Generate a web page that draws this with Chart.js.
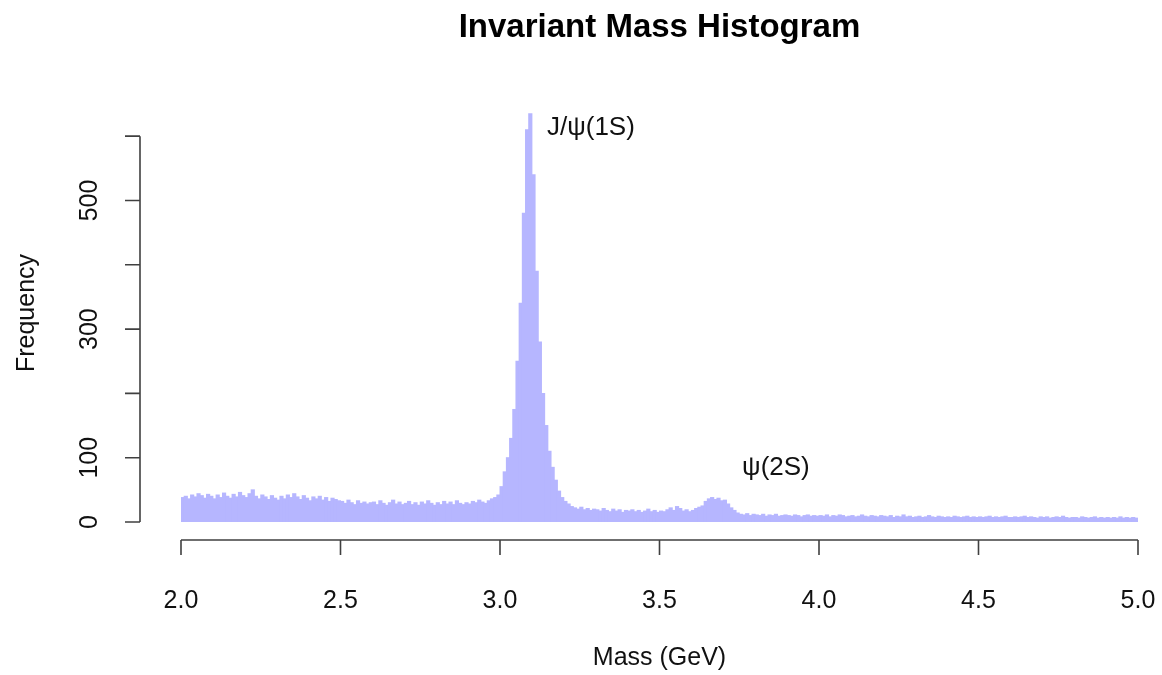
<!DOCTYPE html>
<html>
<head>
<meta charset="utf-8">
<script src="https://cdn.jsdelivr.net/npm/chart.js@4"></script>
<style>
  body { margin: 0; background: #fff; }
  canvas { display: block; }
</style>
</head>
<body>
<canvas id="hist" width="1162" height="675"></canvas>
<script>
// bins of 0.01 GeV from 2.00 to 5.00, one row per 0.1 GeV
const binStart = 2.0
const binWidth = 0.01
const counts = [
  38, 40, 36, 42, 39, 44, 41, 37, 43, 40,   // 2.0
  36, 42, 38, 45, 40, 37, 43, 39, 46, 41,   // 2.1
  38, 44, 50, 40, 36, 42, 39, 35, 41, 37,   // 2.2
  34, 40, 36, 42, 38, 44, 39, 35, 41, 37,   // 2.3
  33, 39, 36, 40, 34, 38, 32, 37, 35, 33,   // 2.4
  32, 29, 34, 30, 27, 33, 29, 31, 28, 30,   // 2.5
  31, 27, 33, 29, 26, 30, 34, 28, 31, 27,   // 2.6
  29, 32, 27, 30, 26, 31, 28, 33, 29, 26,   // 2.7
  30, 27, 32, 28, 31, 27, 33, 29, 27, 30,   // 2.8
  28, 32, 30, 34, 31, 29, 33, 36, 38, 42,   // 2.9
  55, 78, 100, 130, 175, 250, 340, 480, 610, 635,   // 3.0
  540, 390, 280, 200, 150, 110, 85, 65, 48, 38,     // 3.1
  32, 28, 24, 22, 20, 23, 19, 21, 18, 20,   // 3.2
  19, 17, 21, 18, 16, 20, 17, 19, 15, 18,   // 3.3
  17, 19, 16, 18, 15, 17, 20, 16, 18, 15,   // 3.4
  17, 16, 19, 22, 18, 24, 21, 17, 19, 16,   // 3.5
  18, 21, 23, 25, 32, 36, 38, 35, 37, 33,   // 3.6
  34, 28, 22, 18, 14, 12, 11, 13, 10, 12,   // 3.7
  11, 10, 12, 9, 11, 10, 12, 9, 10, 11,     // 3.8
  10, 9, 11, 10, 8, 10, 11, 9, 10, 9,       // 3.9
  10, 9, 11, 8, 10, 9, 11, 10, 8, 9,        // 4.0
  10, 8, 9, 11, 9, 8, 10, 9, 8, 10,         // 4.1
  9, 8, 10, 7, 9, 8, 11, 8, 9, 7,           // 4.2
  8, 9, 7, 8, 10, 8, 7, 9, 8, 7,            // 4.3
  8, 7, 9, 8, 7, 8, 9, 7, 8, 7,             // 4.4
  8, 7, 8, 9, 7, 8, 7, 8, 9, 7,             // 4.5
  7, 8, 7, 8, 9, 7, 8, 7, 6, 8,             // 4.6
  7, 8, 6, 7, 8, 7, 9, 7, 6, 7,             // 4.7
  7, 6, 8, 7, 6, 7, 8, 6, 7, 6,             // 4.8
  7, 6, 7, 6, 8, 6, 7, 6, 7, 6              // 4.9
]
const xTicks = [2.0, 2.5, 3.0, 3.5, 4.0, 4.5, 5.0]
const yTicks = [0, 100, 200, 300, 400, 500, 600]
const yTickLabels = ['0', '100', '', '300', '', '500', '']
const peakNames = ['J/\u03c8(1S)', '\u03c8(2S)']
const peakMass = [3.285, 3.865]
const peakFreq = [613, 84]

const histData = counts.map((c, i) => ({ x: binStart + binWidth * (i + 0.5), y: c }))

const FONT = '"Liberation Sans", Arial, sans-serif'

// base-R style detached axes, drawn off the chart scales
const rAxes = {
  id: 'rAxes',
  afterDraw(chart) {
    const ctx = chart.ctx
    const x = chart.scales.x
    const y = chart.scales.y
    const axisY = 540
    const axisX = 140
    ctx.save()
    ctx.strokeStyle = '#404040'
    ctx.lineWidth = 1.6
    ctx.fillStyle = '#111'

    // x axis
    ctx.beginPath()
    ctx.moveTo(x.getPixelForValue(xTicks[0]), axisY)
    ctx.lineTo(x.getPixelForValue(xTicks[xTicks.length - 1]), axisY)
    xTicks.forEach(t => {
      const px = x.getPixelForValue(t)
      ctx.moveTo(px, axisY)
      ctx.lineTo(px, axisY + 15)
    })
    ctx.stroke()
    ctx.font = '25px ' + FONT
    ctx.textAlign = 'center'
    ctx.textBaseline = 'middle'
    xTicks.forEach(t => {
      ctx.fillText(t.toFixed(1), x.getPixelForValue(t), 601)
    })

    // y axis
    ctx.beginPath()
    ctx.moveTo(axisX, y.getPixelForValue(yTicks[0]))
    ctx.lineTo(axisX, y.getPixelForValue(yTicks[yTicks.length - 1]))
    yTicks.forEach(t => {
      const py = y.getPixelForValue(t)
      ctx.moveTo(axisX, py)
      ctx.lineTo(axisX - 15, py)
    })
    ctx.stroke()
    yTicks.forEach((t, i) => {
      if (!yTickLabels[i]) return
      ctx.save()
      ctx.translate(90, y.getPixelForValue(t))
      ctx.rotate(-Math.PI / 2)
      ctx.fillText(yTickLabels[i], 0, 0)
      ctx.restore()
    })

    // axis titles
    const midX = (chart.chartArea.left + chart.chartArea.right) / 2
    const midY = (chart.chartArea.top + chart.chartArea.bottom) / 2
    ctx.fillText('Mass (GeV)', midX, 658)
    ctx.save()
    ctx.translate(27, midY)
    ctx.rotate(-Math.PI / 2)
    ctx.fillText('Frequency', 0, 0)
    ctx.restore()

    // title
    ctx.font = 'bold 33px ' + FONT
    ctx.fillStyle = '#000'
    ctx.fillText('Invariant Mass Histogram', midX, 28)

    // peak labels
    ctx.font = '26px ' + FONT
    ctx.fillStyle = '#111'
    peakNames.forEach((n, i) => {
      ctx.fillText(n, x.getPixelForValue(peakMass[i]), y.getPixelForValue(peakFreq[i]))
    })
    ctx.restore()
  }
}

const ctx = document.getElementById('hist').getContext('2d')
const chart = new Chart(ctx, {
  type: 'bar',
  data: {
    datasets: [{
      label: 'Frequency',
      data: histData,
      backgroundColor: 'rgb(182,182,255)',
      borderWidth: 0,
      barPercentage: 1.0,
      categoryPercentage: 1.0,
      inflateAmount: 0.5,
    }]
  },
  options: {
    responsive: false,
    animation: false,
    layout: {
      padding: { left: 181, right: 24, top: 104, bottom: 153 }
    },
    scales: {
      x: {
        type: 'linear',
        min: 2.0,
        max: 5.0,
        offset: false,
        display: false,
      },
      y: {
        min: 0,
        max: 650,
        display: false,
      },
    },
    plugins: {
      legend: { display: false },
      tooltip: { enabled: false },
      title: { display: false },
    }
  },
  plugins: [rAxes]
})
</script>
</body>
</html>
